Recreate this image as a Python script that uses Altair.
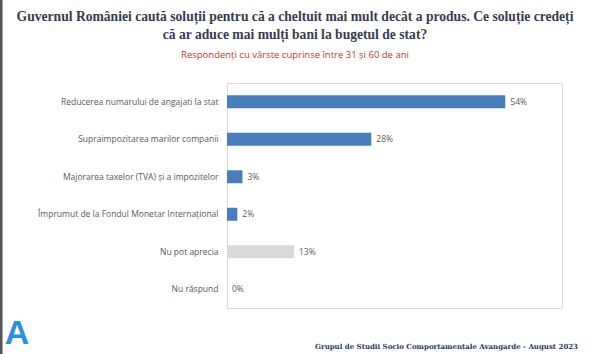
import altair as alt
import pandas as pd

categories = [
    "Reducerea numarului de angajati la stat",
    "Supraimpozitarea marilor companii",
    "Majorarea taxelor (TVA) și a impozitelor",
    "Împrumut de la Fondul Monetar Internațional",
    "Nu pot aprecia",
    "Nu răspund",
]
values = [54, 28, 3, 2, 13, 0]
groups = ["solutie", "solutie", "solutie", "solutie", "nonraspuns", "nonraspuns"]

title_lines = [
    "Guvernul României caută soluții pentru că a cheltuit mai mult decât a produs. Ce soluție credeți",
    "că ar aduce mai mulți bani la bugetul de stat?",
]
subtitle = "Respondenți cu vârste cuprinse între 31 și 60 de ani"
footer = "Grupul de Studii Socio Comportamentale Avangarde   -  August 2023"

df = pd.DataFrame({"cat": categories, "v": values, "g": groups})

W, H = 335, 225

y_enc = alt.Y(
    "cat:N",
    sort=categories,
    scale=alt.Scale(paddingInner=0, paddingOuter=0),
    axis=alt.Axis(
        title=None, ticks=False, grid=False, domainColor="#d9d9d9", domainWidth=1,
        labelFont="Open Sans", labelFontSize=8.5, labelColor="#595959", labelPadding=9,
        labelLimit=300,
    ),
)
x_enc = alt.X("v:Q", scale=alt.Scale(domain=[0, 62]), axis=None)

base = alt.Chart(df)

bars = base.mark_bar(height=13).encode(
    y=y_enc,
    x=x_enc,
    color=alt.Color("g:N", scale=alt.Scale(domain=["solutie", "nonraspuns"], range=["#4a7ebb", "#d9d9d9"]), legend=None),
)

labels = base.transform_calculate(lbl="datum.v + '%'").mark_text(
    align="left", baseline="middle", dx=5, font="Open Sans", fontSize=8.5, color="#595959"
).encode(y=alt.Y("cat:N", sort=categories), x="v:Q", text="lbl:N")


def txt(s, x, y, **kw):
    return alt.Chart(pd.DataFrame({"t": [s]})).mark_text(**kw).encode(
        x=alt.value(x), y=alt.value(y), text="t:N"
    )


t1 = txt(title_lines[0], 68, -66, align="center", baseline="middle", font="Liberation Serif",
         fontWeight="bold", fontSize=13.6, color="#3a3a4f")
t2 = txt(title_lines[1], 68, -48, align="center", baseline="middle", font="Liberation Serif",
         fontWeight="bold", fontSize=13.6, color="#3a3a4f")
st = txt(subtitle, 68, -28, align="center", baseline="middle", font="Open Sans",
         fontSize=9.5, color="#c0392b")
foot = txt(footer, 351, 264, align="right", baseline="middle", font="DejaVu Serif",
           fontWeight="bold", fontSize=7, color="#1f3864")
logo = txt("A", -210, 251, align="center", baseline="middle", font="Liberation Sans",
           fontWeight="bold", fontSize=34, color="#2f8fdc")

border = alt.Chart(pd.DataFrame({"t": [0]})).mark_rule(color="#555555", strokeWidth=3).encode(
    x=alt.value(-226), y=alt.value(-83), y2=alt.value(271)
)

chart = alt.layer(bars, labels, t1, t2, st, foot, logo, border).properties(
    width=W,
    height=H,
    padding={"left": 227, "top": 83, "right": 28, "bottom": 46},
    autosize=alt.AutoSizeParams(type="none"),
).configure_view(strokeWidth=0).configure(background="white")

chart.save("out.html", embed_options={"renderer": "svg", "actions": False})
